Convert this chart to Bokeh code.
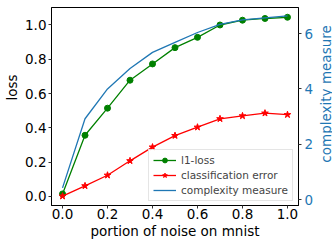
import math
from bokeh.plotting import figure
from bokeh.layouts import row
from bokeh.models import Range1d, LinearAxis, FixedTicker, NumeralTickFormatter, Legend
from bokeh.core.properties import value
from bokeh.embed import file_html
from bokeh.resources import INLINE

noise = [0.0, 0.1, 0.2, 0.3, 0.4, 0.5, 0.6, 0.7, 0.8, 0.9, 1.0]
l1_loss = [0.015, 0.357, 0.515, 0.678, 0.773, 0.868, 0.928, 1.0, 1.028, 1.038, 1.045]
class_error = [0.002, 0.062, 0.124, 0.208, 0.288, 0.355, 0.404, 0.453, 0.47, 0.486, 0.477]
complexity = [0.42, 2.92, 4.0, 4.74, 5.32, 5.68, 6.04, 6.33, 6.5, 6.57, 6.64]

x_ticks = [0.0, 0.2, 0.4, 0.6, 0.8, 1.0]
y_ticks = [0.0, 0.2, 0.4, 0.6, 0.8, 1.0]
r_ticks = [0, 2, 4, 6]

x_title = "portion of noise on mnist"
y_title = "loss"
r_title = "complexity measure"

FONT = "DejaVu Sans"
BLUE = "#1f77b4"
FS = "13.5px"
H = 244

fig = figure(output_backend="svg", toolbar_location=None,
             frame_width=247, frame_height=198,
             min_border_left=27, min_border_right=15, min_border_top=7, min_border_bottom=39,
             x_range=Range1d(-0.049, 1.049), y_range=Range1d(-0.0525, 1.102))
fig.extra_y_ranges = {"cm": Range1d(-0.217, 6.944)}
fig.xgrid.visible = False
fig.ygrid.visible = False
fig.outline_line_color = "black"
fig.outline_line_width = 1
fig.background_fill_color = "white"
fig.border_fill_color = "white"

right = LinearAxis(y_range_name="cm")
fig.add_layout(right, "right")


def style(ax, label_color="black"):
    ax.major_tick_out = 3
    ax.major_tick_in = 0
    ax.minor_tick_out = 0
    ax.minor_tick_in = 0
    ax.major_tick_line_color = "#333333"
    ax.axis_line_color = "black"
    ax.major_label_text_font = FONT
    ax.major_label_text_font_size = FS
    ax.major_label_text_color = label_color
    ax.major_label_standoff = 2
    ax.axis_label_text_font = FONT
    ax.axis_label_text_font_size = FS
    ax.axis_label_text_font_style = "normal"
    ax.axis_label_text_color = label_color


xa = fig.xaxis[0]
style(xa)
xa.ticker = FixedTicker(ticks=x_ticks)
xa.formatter = NumeralTickFormatter(format="0.0")
xa.axis_label = x_title
xa.axis_label_standoff = 1
xa.major_label_standoff = 0

ya = fig.yaxis[0]
style(ya)
ya.ticker = FixedTicker(ticks=y_ticks)
ya.formatter = NumeralTickFormatter(format="0.0")

style(right, label_color=BLUE)
right.ticker = FixedTicker(ticks=r_ticks)
right.formatter = NumeralTickFormatter(format="0")
right.major_label_standoff = 3

g1 = fig.line(noise, l1_loss, line_color="green", line_width=1.3)
g2 = fig.scatter(noise, l1_loss, marker="circle", size=6, fill_color="green", line_color="green")
r1 = fig.line(noise, class_error, line_color="red", line_width=1.3)
r2 = fig.scatter(noise, class_error, marker="star", size=7, fill_color="red", line_color="red")
b1 = fig.line(noise, complexity, line_color=BLUE, line_width=1.3, y_range_name="cm")

legend = Legend(items=[("l1-loss", [g1, g2]), ("classification error", [r1, r2]),
                       ("complexity measure", [b1])],
                location=(97, 4))
legend.label_text_font = FONT
legend.label_text_font_size = "10.5px"
legend.label_height = 12
legend.glyph_height = 12
legend.glyph_width = 23
legend.label_standoff = 5
legend.spacing = 3
legend.padding = 4
legend.margin = 0
legend.border_line_color = "#cccccc"
legend.border_line_width = 1
legend.background_fill_color = "white"
legend.background_fill_alpha = 0.8
fig.add_layout(legend, "center")


def strip(width):
    s = figure(output_backend="svg", toolbar_location=None, width=width, height=H,
               min_border=0, x_axis_type=None, y_axis_type=None,
               x_range=Range1d(0, 1), y_range=Range1d(0, 1))
    s.xgrid.visible = False
    s.ygrid.visible = False
    s.outline_line_color = None
    s.background_fill_color = "white"
    s.border_fill_color = "white"
    return s


# y-axis titles, reading bottom to top as in the original
left_strip = strip(22)
left_strip.text(x=[0.523], y=[0.5963], text=[y_title], angle=math.pi / 2,
                text_align="center", text_baseline="middle",
                text_font=value(FONT), text_font_size=value(FS), text_color="black")

right_strip = strip(21)
right_strip.text(x=[0.43], y=[0.5635], text=[r_title], angle=math.pi / 2,
                 text_align="center", text_baseline="middle",
                 text_font=value(FONT), text_font_size=value(FS), text_color=BLUE)

p = row(left_strip, fig, right_strip, spacing=0)

open("out.html", "w").write(file_html(p, INLINE))
